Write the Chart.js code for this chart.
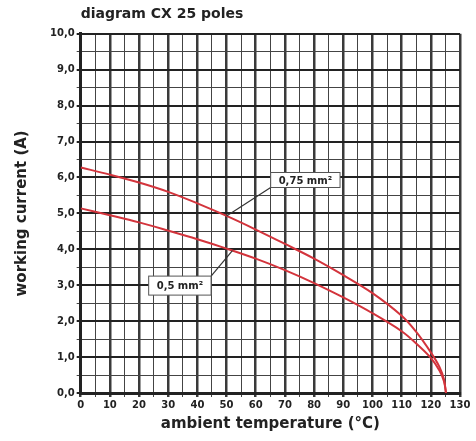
<!DOCTYPE html>
<html>
<head>
<meta charset="utf-8">
<script src="https://cdn.jsdelivr.net/npm/chart.js@4.4.1/dist/chart.umd.min.js"></script>
<style>
  html, body { margin: 0; padding: 0; background: #fff; }
  #wrap { width: 476px; height: 441px; position: relative; }
</style>
</head>
<body>
<div id="wrap"><canvas id="cx-chart"></canvas></div>
<script>
// ambient temperature (°C) and working current (A)
const temperature = [0, 10, 20, 30, 40, 50, 60, 70, 80, 90, 100, 110, 115, 120, 123, 124.5, 125.2];
const current075 = [6.28, 6.08, 5.86, 5.6, 5.28, 4.93, 4.55, 4.15, 3.74, 3.28, 2.78, 2.15, 1.7, 1.13, 0.72, 0.38, 0];
const current05 = [5.14, 4.95, 4.75, 4.52, 4.28, 4.02, 3.74, 3.42, 3.06, 2.66, 2.22, 1.72, 1.38, 0.98, 0.62, 0.33, 0];

const seriesNames = ["0,75 mm²", "0,5 mm²"];
// where the boxed labels sit (data units) and where their pointer meets the curve
const labelX = [77, 34];
const labelY = [5.93, 2.99];
const pointerX = [50, 52];

const canvas = document.querySelector("#cx-chart");
const red = "#d3343c";
const font = "'DejaVu Sans', sans-serif";

function toPoints(ys) {
  return temperature.map((t, i) => ({ x: t, y: ys[i] }));
}

function valueAt(ys, x) {
  for (let i = 1; i < temperature.length; i++) {
    if (x <= temperature[i]) {
      const t = (x - temperature[i - 1]) / (temperature[i] - temperature[i - 1]);
      return ys[i - 1] + t * (ys[i] - ys[i - 1]);
    }
  }
  return ys[ys.length - 1];
}

/* ============================================= */
/*              boxed curve labels               */
/* ============================================= */
const curveLabels = {
  id: "curveLabels",
  afterDatasetsDraw(chart) {
    const { ctx, scales } = chart;
    const series = [current075, current05];
    ctx.save();
    ctx.font = "bold 10px " + font;
    seriesNames.forEach((name, i) => {
      const cx = scales.x.getPixelForValue(labelX[i]);
      const cy = scales.y.getPixelForValue(labelY[i]);
      const w = ctx.measureText(name).width + 16;
      const h = i === 0 ? 15 : 19;
      const px = scales.x.getPixelForValue(pointerX[i]);
      const py = scales.y.getPixelForValue(valueAt(series[i], pointerX[i]));
      // pointer from nearest box corner to the curve
      const sx = i === 0 ? cx - w / 2 : cx + w / 2;
      const sy = i === 0 ? cy + h / 2 : cy - h / 2;
      ctx.strokeStyle = "#333";
      ctx.lineWidth = 1.2;
      ctx.beginPath();
      ctx.moveTo(sx, sy);
      ctx.lineTo(px, py);
      ctx.stroke();
      ctx.fillStyle = "#fff";
      ctx.fillRect(cx - w / 2, cy - h / 2, w, h);
      ctx.strokeStyle = "#555";
      ctx.lineWidth = 1;
      ctx.strokeRect(cx - w / 2, cy - h / 2, w, h);
      ctx.fillStyle = "#222";
      ctx.textAlign = "center";
      ctx.textBaseline = "middle";
      ctx.fillText(name, cx, cy + 1);
    });
    ctx.restore();
  },
};

/* ============================================= */
/*                    chart                      */
/* ============================================= */
const cxChart = new Chart(canvas, {
  type: "line",
  data: {
    datasets: [
      {
        label: seriesNames[0],
        data: toPoints(current075),
        borderColor: red,
        borderWidth: 2,
        pointRadius: 0,
        tension: 0.35,
      },
      {
        label: seriesNames[1],
        data: toPoints(current05),
        borderColor: red,
        borderWidth: 2,
        pointRadius: 0,
        tension: 0.35,
      },
    ],
  },
  options: {
    responsive: true,
    maintainAspectRatio: false,
    animation: false,
    layout: { padding: { left: 13, right: 16, top: 0, bottom: 8 } },
    plugins: {
      legend: { display: false },
      tooltip: { enabled: false },
      title: {
        display: true,
        text: "diagram CX 25 poles",
        align: "start",
        fullSize: false,
        color: "#222",
        font: { family: font, size: 14, weight: "bold" },
        padding: { top: 6, bottom: 11 },
      },
    },
    scales: {
      x: {
        type: "linear",
        min: 0,
        max: 130,
        ticks: {
          stepSize: 5,
          autoSkip: false,
          maxRotation: 0,
          color: "#222",
          font: { family: font, size: 10, weight: "bold" },
          padding: 2,
          callback: (v) => (v % 10 === 0 ? String(v) : ""),
        },
        grid: {
          color: (c) => (c.tick && c.tick.value % 10 === 0 ? "#3a3a3a" : "#444"),
          lineWidth: (c) => (c.tick && c.tick.value % 10 === 0 ? 2.5 : 1),
          tickLength: 4,
        },
        border: { display: true, color: "#222", width: 3 },
        title: {
          display: true,
          text: "ambient temperature (°C)",
          color: "#222",
          font: { family: font, size: 15, weight: "bold" },
          padding: { top: 2, bottom: 0 },
        },
      },
      y: {
        min: 0,
        max: 10,
        ticks: {
          stepSize: 0.5,
          autoSkip: false,
          color: "#222",
          font: { family: font, size: 10, weight: "bold" },
          padding: 2,
          callback: (v) => (Number.isInteger(v) ? v.toFixed(1).replace(".", ",") : ""),
        },
        grid: {
          color: (c) => (c.tick && Number.isInteger(c.tick.value) ? "#222" : "#444"),
          lineWidth: (c) => (c.tick && Number.isInteger(c.tick.value) ? 2 : 1),
          tickLength: 4,
        },
        border: { display: true, color: "#222", width: 3 },
        title: {
          display: true,
          text: "working current (A)",
          color: "#222",
          font: { family: font, size: 15, weight: "bold" },
          padding: { top: 0, bottom: 17 },
        },
      },
    },
  },
  plugins: [curveLabels],
});
</script>
</body>
</html>
